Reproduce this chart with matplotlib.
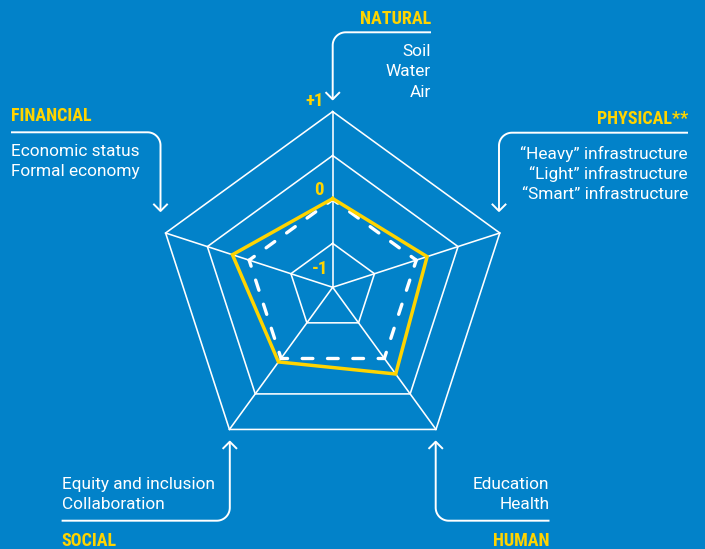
import numpy as np
import matplotlib
matplotlib.use("Agg")
import matplotlib.pyplot as plt
import matplotlib.font_manager as fm
from matplotlib.font_manager import FontProperties

plt.rcParams["lines.scale_dashes"] = False

# ---------------- data ----------------
categories = ["NATURAL", "PHYSICAL**", "HUMAN", "SOCIAL", "FINANCIAL"]
current_values = [0.01, 0.13, 0.22, 0.05, 0.20]     # yellow solid line
reference_values = [0.0, 0.0, 0.0, 0.0, 0.0]        # white dashed line
ring_levels = [1.0, 0.5, -0.5]
scale_values = [1, 0, -1]
scale_labels = ["+1", "0", "-1"]

natural_items = ["Soil", "Water", "Air"]
physical_items = ["\u201cHeavy\u201d infrastructure", "\u201cLight\u201d infrastructure",
                  "\u201cSmart\u201d infrastructure"]
human_items = ["Education", "Health"]
social_items = ["Equity and inclusion", "Collaboration"]
financial_items = ["Economic status", "Formal economy"]

# ---------------- style ----------------
BG = "#0282C9"
YELLOW = "#FFD400"
WHITE = "white"


def find(name, weight, stretch="normal"):
    try:
        return fm.findfont(FontProperties(family=name, weight=weight, stretch=stretch),
                           fallback_to_default=False)
    except Exception:
        return None


head_path = find("Roboto Condensed", "bold", "condensed") or find("Roboto", "bold") \
    or find("DejaVu Sans", "bold")
body_path = find("Roboto", "normal") or find("DejaVu Sans", "normal")


def fp(bold, size):
    return FontProperties(fname=head_path if bold else body_path, size=size)


body_size = 12.4
head_size = 13.0
tick_size = 13.5

W, H = 705, 549
fig = plt.figure(figsize=(W / 100, H / 100), dpi=100, facecolor=BG)

# overlay in pixel coordinates for callouts
ov = fig.add_axes([0, 0, 1, 1], zorder=0)
ov.set_xlim(0, W)
ov.set_ylim(H, 0)
ov.axis("off")

# radar (polar) axes
cx, cy, R = 332.7, 287.3, 175.7
ax = fig.add_axes([(cx - R) / W, (H - cy - R) / H, 2 * R / W, 2 * R / H],
                  projection="polar", zorder=2)
ax.set_theta_offset(np.pi / 2)
ax.set_theta_direction(-1)
ax.set_ylim(-1, 1)
ax.axis("off")

n = len(categories)
theta = np.linspace(0, 2 * np.pi, n, endpoint=False)
theta_c = np.append(theta, theta[0])

for lv in ring_levels:
    ax.plot(theta_c, [lv] * (n + 1), color=WHITE, lw=1.15, clip_on=False,
            solid_joinstyle="miter")
for t in theta:
    ax.plot([t, t], [-1, 1], color=WHITE, lw=1.15, clip_on=False)

# dashed reference polygon: each edge dashed separately so a dash wraps every corner
PX2PT = 0.72
dash_lw = 2.4
cap = dash_lw / PX2PT  # round caps add this much (px) to a dash's visible length
for i in range(n):
    j = (i + 1) % n
    ri = (reference_values[i] + 1) / 2 * R
    rj = (reference_values[j] + 1) / 2 * R
    L = np.hypot(ri * np.sin(theta[i]) - rj * np.sin(theta[j]),
                 ri * np.cos(theta[i]) - rj * np.cos(theta[j]))
    c_vis, d_vis = 8.0, 14.0
    g_vis = (L - 2 * c_vis - 3 * d_vis) / 4
    d_on = (d_vis - cap) * PX2PT
    g_off = (g_vis + cap) * PX2PT
    c_on = (c_vis - cap / 2) * PX2PT
    ax.plot([theta[i], theta[j] if j else 2 * np.pi],
            [reference_values[i], reference_values[j]],
            color=WHITE, lw=dash_lw, linestyle=(d_on - c_on, (d_on, g_off)),
            dash_capstyle="round", clip_on=False)

cur_c = np.append(current_values, current_values[0])
ax.plot(theta_c, cur_c, color=YELLOW, lw=2.5, clip_on=False, solid_joinstyle="miter")

offsets = {1: (-18, 11), 0: (-13.5, 9.5), -1: (-12.7, 18)}
for v, lab in zip(scale_values, scale_labels):
    ax.annotate(lab, xy=(0, v), xytext=offsets[v], textcoords="offset pixels",
                ha="center", va="center", color=YELLOW, fontproperties=fp(True, tick_size))


# ---------------- callouts ----------------
def callout(x_start, y_line, x_vert, y_tip, r=13, arm=6.5):
    sx = np.sign(x_vert - x_start)
    sy = np.sign(y_tip - y_line)
    ccx, ccy = x_vert - sx * r, y_line + sy * r
    a = np.linspace(0, np.pi / 2, 20)
    xs = [x_start] + list(ccx + r * np.sin(a) * sx) + [x_vert]
    ys = [y_line] + list(ccy - r * np.cos(a) * sy) + [y_tip]
    ov.plot(xs, ys, color=WHITE, lw=1.4, solid_capstyle="butt")
    ov.plot([x_vert - arm, x_vert, x_vert + arm], [y_tip - sy * arm, y_tip, y_tip - sy * arm],
            color=WHITE, lw=1.4)


callout(431, 32.3, 332.7, 99.3)
callout(11, 132.3, 160.5, 211)
callout(688, 132.7, 499, 211)
callout(61.6, 520.7, 229.8, 441.7)
callout(549.5, 520.7, 435.7, 441.7)


def head(x, y, text, ha):
    ov.text(x, y, text, ha=ha, va="baseline", color=YELLOW, fontproperties=fp(True, head_size))


def body(x, ys, items, ha):
    for y, t in zip(ys, items):
        ov.text(x, y, t, ha=ha, va="baseline", color=WHITE, fontproperties=fp(False, body_size))


head(431, 24, categories[0], "right")
body(431, [56, 76, 96.7], natural_items, "right")

head(11, 120.7, categories[4], "left")
body(11, [156, 175.7], financial_items, "left")

head(688, 124, categories[1], "right")
body(688, [159.3, 179.3, 199.3], physical_items, "right")

head(61.6, 545.7, categories[3], "left")
body(61.6, [489.3, 509.3], social_items, "left")

head(549.5, 545.7, categories[2], "right")
body(549.5, [489.3, 509.3], human_items, "right")

fig.savefig("out.png", dpi=100, facecolor=BG)
